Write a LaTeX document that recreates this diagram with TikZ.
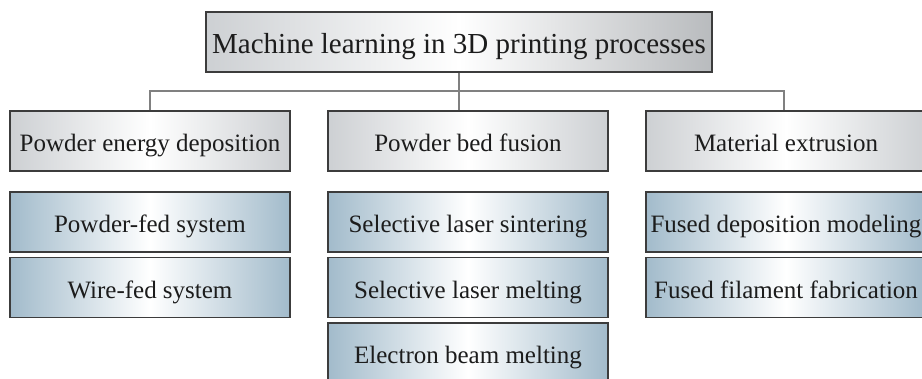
\documentclass[tikz,border=0pt]{standalone}
\usepackage{fontspec}
\setmainfont{Liberation Serif}
\definecolor{bordc}{HTML}{3C3C3C}
\definecolor{connc}{HTML}{808080}
\definecolor{grayedge}{HTML}{CDD0D3}
\definecolor{blueedge}{HTML}{A2BBCB}
\definecolor{txtc}{HTML}{1C1C1C}
\tikzset{
  basebox/.style={draw=bordc, line width=1.4pt, inner sep=0pt, text=txtc,
    minimum height=60pt, text height=21.5pt, text depth=0pt, font=\fontsize{25}{30}\selectfont},
  rootbox/.style={basebox, minimum width=506pt, left color=grayedge, right color=grayedge!90!black, middle color=white,
    text height=22.6pt, font=\fontsize{29}{34}\selectfont},
  catbox/.style={basebox, minimum width=280pt, left color=grayedge, right color=grayedge, middle color=white},
  subbox/.style={basebox, minimum width=280pt, left color=blueedge, right color=blueedge, middle color=white},
  conn/.style={draw=connc, line width=1.5pt}
}
\begin{document}
\begin{tikzpicture}[x=1pt,y=-1pt]
\useasboundingbox (0,0) rectangle (922,378);
\clip (0,0) rectangle (922,378);
\node[rootbox] (root) at (459,42) {Machine learning in 3D printing processes};
\node[catbox] (ped) at (150,141) {Powder energy deposition};
\node[catbox] (pbf) at (468,141) {Powder bed fusion};
\node[catbox] (me) at (786,141) {Material extrusion};
\node[subbox] (pfs) at (150,222) {Powder-fed system};
\node[subbox] (wfs) at (150,287.5) {Wire-fed system};
\node[subbox] (sls) at (468,222) {Selective laser sintering};
\node[subbox] (slm) at (468,287.5) {Selective laser melting};
\node[subbox] (ebm) at (468,353) {Electron beam melting};
\node[subbox] (fdm) at (786,222) {Fused deposition modeling};
\node[subbox] (fff) at (786,287.5) {Fused filament fabrication};
\coordinate (j) at (459,91);
\draw[conn] (root.south) -- (root.south |- pbf.north);
\draw[conn] (ped.north) -- (ped.north |- j) -- ([xshift=-2pt]me.north |- j) -- ([xshift=-2pt]me.north);
\end{tikzpicture}
\end{document}
